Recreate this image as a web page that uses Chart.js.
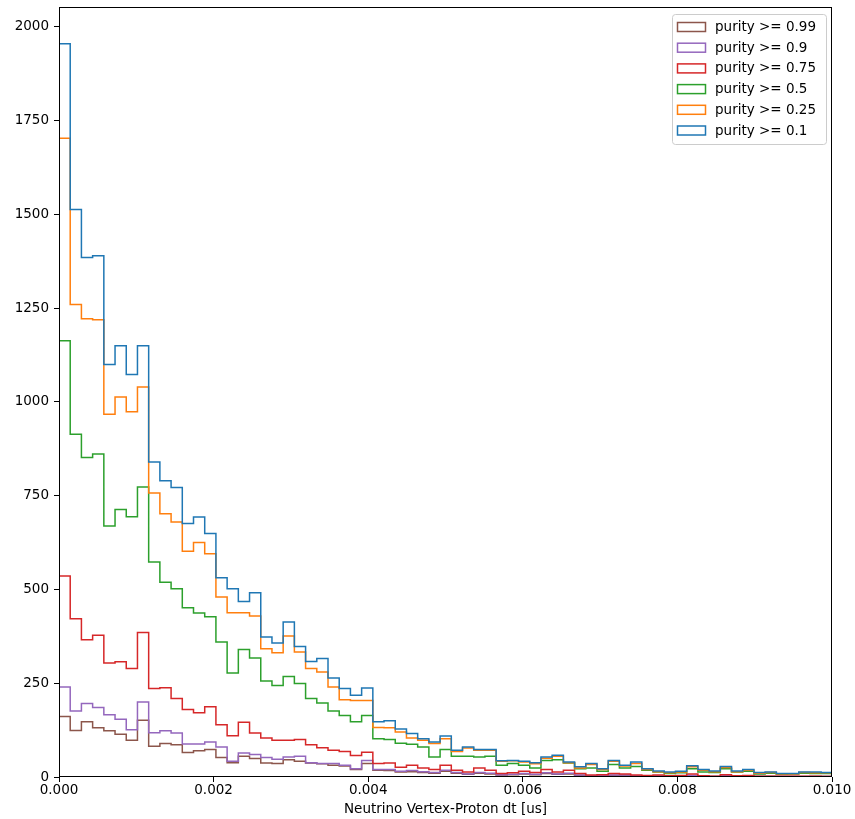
<!DOCTYPE html>
<html>
<head>
<meta charset="utf-8">
<title>Neutrino Vertex-Proton dt</title>
<script src="https://cdn.jsdelivr.net/npm/chart.js@4.4.1/dist/chart.umd.min.js"></script>
<style>
  html, body { margin: 0; padding: 0; background: #fff; }
  #wrap { width: 855px; height: 819px; }
</style>
</head>
<body>
<div id="wrap"><canvas id="dtHist" width="855" height="819"></canvas></div>
<script>
// histogram binning (bins start at 0, x axis is cut at 0.010)
const BIN_WIDTH = 0.000145;
const X_TICKS = [0, 0.002, 0.004, 0.006, 0.008, 0.010];
const Y_TICKS = [0, 250, 500, 750, 1000, 1250, 1500, 1750, 2000];

const purityCuts = ['purity >= 0.99', 'purity >= 0.9', 'purity >= 0.75', 'purity >= 0.5', 'purity >= 0.25', 'purity >= 0.1'];
const cutColors  = ['#8c564b', '#9467bd', '#d62728', '#2ca02c', '#ff7f0e', '#1f77b4'];

// counts per bin for each purity cut
const countsP099 = [161,124,147,131,123,114,98,151,82,89,86,65,70,73,52,38,55,49,37,36,46,42,37,35,31,29,20,36,18,17,
  13,14,12,10,15,10,7,10,8,5,6,8,6,9,7,8,4,3,3,4,4,2,2,2,1,2,3,1,1,2,1,1,1,1,1,1,0,1,1];
const countsP090 = [240,176,196,185,166,154,126,200,118,123,117,88,88,93,80,42,64,60,52,47,53,55,38,36,36,31,22,44,20,20,
  15,17,14,12,18,12,8,12,10,6,7,9,7,11,8,10,5,3,4,5,5,3,2,3,2,2,4,2,1,3,1,2,1,1,1,1,1,1,1];
const countsP075 = [536,422,366,378,304,307,289,385,236,238,209,180,171,187,139,110,146,117,104,98,98,100,86,78,71,68,57,66,36,37,
  26,31,24,20,31,18,13,24,18,9,11,15,12,20,13,18,9,5,6,9,8,5,4,5,3,4,8,3,2,6,3,4,2,2,2,2,2,2,1];
const countsP050 = [1163,914,852,861,669,713,694,773,573,519,502,451,437,427,360,277,340,317,256,244,268,249,209,197,176,164,147,164,102,100,
  90,87,80,53,73,55,55,53,55,31,36,31,24,44,46,37,22,24,15,33,24,28,18,13,9,11,22,13,12,22,13,15,8,10,7,8,10,9,9];
const countsP025 = [1703,1260,1222,1219,967,1013,974,1040,757,702,680,602,625,595,480,438,438,429,342,331,376,333,289,280,240,206,204,204,132,131,
  120,104,98,89,102,68,77,71,71,42,43,40,35,50,55,38,24,33,20,42,29,36,20,14,11,13,27,18,14,25,14,18,10,12,8,8,12,11,11];
const countsP010 = [1955,1513,1385,1390,1100,1150,1073,1150,840,790,772,676,693,649,531,502,468,491,373,357,413,348,308,316,264,236,218,237,147,150,
  128,116,102,93,109,71,80,73,73,43,44,42,38,53,58,40,27,36,22,44,31,40,22,16,13,15,30,20,16,28,16,20,12,13,9,9,13,13,12];

const allCounts = [countsP099, countsP090, countsP075, countsP050, countsP025, countsP010];

// outline of a step histogram: up from 0 at the first edge, down to 0 after the last bin
function stepOutline(counts) {
  const pts = [{ x: 0, y: 0 }];
  counts.forEach((c, i) => pts.push({ x: i * BIN_WIDTH, y: c }));
  pts.push({ x: counts.length * BIN_WIDTH, y: 0 });
  return pts;
}

// the 0.1 cut is drawn last (on top), so datasets go in reverse
const datasets = allCounts.map((counts, i) => ({
  label: purityCuts[i],
  data: stepOutline(counts),
  borderColor: cutColors[i],
  backgroundColor: 'rgba(0,0,0,0)',
  borderWidth: 1.5,
  stepped: 'before',
  pointRadius: 0,
  fill: false,
  borderJoinStyle: 'miter'
})).reverse();

const FONT = { family: '"DejaVu Sans", sans-serif', size: 13.5 };

// axes frame drawn over the lines
const frame = {
  id: 'frame',
  afterDatasetsDraw(chart) {
    const { ctx, chartArea: a } = chart;
    ctx.save();
    ctx.strokeStyle = '#000';
    ctx.lineWidth = 1;
    ctx.strokeRect(Math.round(a.left) + 0.5, Math.round(a.top) + 0.5,
      Math.round(a.right - a.left) - 1, Math.round(a.bottom - a.top) - 1);
    ctx.restore();
  }
};

// boxed legend in the upper-right corner, first cut at the top
const cornerLegend = {
  id: 'cornerLegend',
  afterDraw(chart) {
    const { ctx, chartArea: a } = chart;
    const rowH = 20.7, boxW = 28, boxH = 9;
    const x0 = a.right - 160, y0 = a.top + 7;
    const w = 154, h = 130;
    ctx.save();
    ctx.fillStyle = 'rgba(255,255,255,0.8)';
    ctx.strokeStyle = '#cccccc';
    ctx.lineWidth = 1;
    ctx.beginPath();
    ctx.roundRect(x0 + 0.5, y0 + 0.5, w, h, 3);
    ctx.fill();
    ctx.stroke();
    ctx.font = `${FONT.size}px ${FONT.family}`;
    ctx.textBaseline = 'middle';
    ctx.fillStyle = '#000';
    purityCuts.forEach((label, i) => {
      const cy = y0 + 13 + i * rowH;
      ctx.strokeStyle = cutColors[i];
      ctx.lineWidth = 1.5;
      ctx.strokeRect(x0 + 5.5, cy - boxH / 2, boxW, boxH);
      ctx.fillText(label, x0 + 43, cy + 0.5);
    });
    ctx.restore();
  }
};

new Chart(document.getElementById('dtHist'), {
  type: 'line',
  data: { datasets },
  options: {
    responsive: false,
    animation: false,
    layout: { padding: { top: 7, right: 23, left: 0, bottom: 0 } },
    plugins: { legend: { display: false }, tooltip: { enabled: false } },
    scales: {
      x: {
        type: 'linear',
        min: 0,
        max: 0.01,
        afterFit(scale) {
          scale.height = 42;
          scale.paddingLeft = 0;
          scale.paddingRight = 0;
        },
        afterBuildTicks(scale) { scale.ticks = X_TICKS.map(v => ({ value: v })); },
        ticks: {
          font: FONT, color: '#000', padding: 0, maxRotation: 0,
          callback: v => v.toFixed(3)
        },
        grid: { drawOnChartArea: false, drawTicks: true, tickLength: 5, color: '#000' },
        border: { display: false },
        title: {
          display: true,
          text: 'Neutrino Vertex-Proton dt [us]',
          font: FONT, color: '#000',
          padding: { top: 2, bottom: 1 }
        }
      },
      y: {
        type: 'linear',
        min: 0,
        max: 2053,
        afterFit(scale) {
          scale.width = 59;
          scale.paddingTop = 0;
          scale.paddingBottom = 0;
        },
        afterBuildTicks(scale) { scale.ticks = Y_TICKS.map(v => ({ value: v })); },
        ticks: { font: FONT, color: '#000', padding: 5, callback: v => String(v) },
        grid: { drawOnChartArea: false, drawTicks: true, tickLength: 5, color: '#000' },
        border: { display: false }
      }
    }
  },
  plugins: [frame, cornerLegend]
});
</script>
</body>
</html>
